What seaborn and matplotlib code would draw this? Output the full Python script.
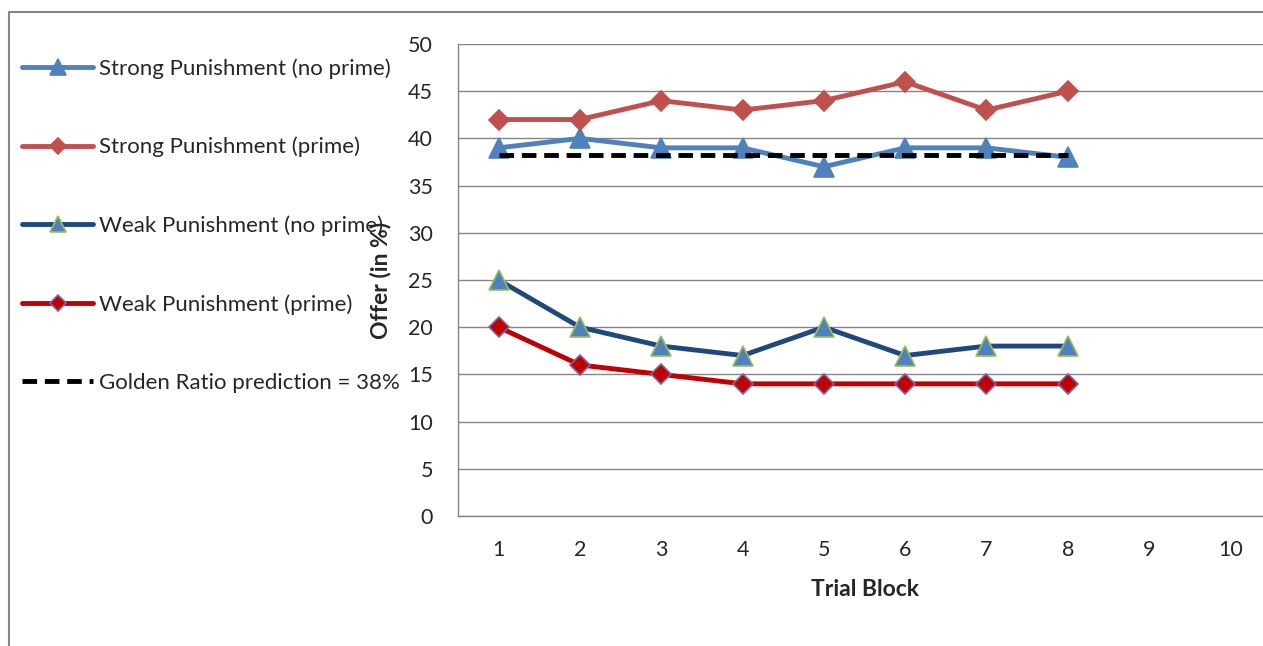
#!/usr/bin/env python3
"""
Offer by trial block for the punishment / prime conditions.
"""

import matplotlib
matplotlib.use('Agg')
import matplotlib.pyplot as plt
from matplotlib.lines import Line2D
import seaborn as sns
import numpy as np

# Data
trial_blocks = [1, 2, 3, 4, 5, 6, 7, 8]
category_labels = ['1', '2', '3', '4', '5', '6', '7', '8', '9', '10']
strong_no_prime = [39, 40, 39, 39, 37, 39, 39, 38]
strong_prime = [42, 42, 44, 43, 44, 46, 43, 45]
weak_no_prime = [25, 20, 18, 17, 20, 17, 18, 18]
weak_prime = [20, 16, 15, 14, 14, 14, 14, 14]
golden_ratio = [38.2] * 8
y_ticks = [0, 5, 10, 15, 20, 25, 30, 35, 40, 45, 50]

sns.set_style('white')
plt.rcParams['font.family'] = ['Lato', 'DejaVu Sans']

W, H = 1263, 646
fig = plt.figure(figsize=(W / 100, H / 100), dpi=100)
ax = fig.add_axes([458 / W, 130 / H, (1271 - 458) / W, (516 - 44) / H])

grey = '#868686'

series = [
    ('Strong Punishment (no prime)', strong_no_prime, '#4F81BD', '^', '#4F81BD', '#4F81BD', 14),
    ('Strong Punishment (prime)', strong_prime, '#C0504D', 'D', '#C0504D', '#C0504D', 10),
    ('Weak Punishment (no prime)', weak_no_prime, '#1F497D', '^', '#4F81BD', '#9BBB59', 14),
    ('Weak Punishment (prime)', weak_prime, '#C00000', 'D', '#C00000', '#8064A2', 10),
]

for label, values, color, marker, mfc, mec, ms in series:
    sns.lineplot(x=trial_blocks, y=values, ax=ax, color=color, linewidth=3.5,
                 marker=marker, markersize=ms, markerfacecolor=mfc,
                 markeredgecolor=mec, markeredgewidth=1.2, label=label,
                 zorder=3)

sns.lineplot(x=trial_blocks, y=golden_ratio, ax=ax, color='black',
             linewidth=3.5, linestyle=(0, (3, 1.6)),
             label='Golden Ratio prediction = 38%', zorder=4)

# Axes
ax.set_xlim(0.5, 10.5)
ax.set_ylim(0, 50)
ax.set_yticks(y_ticks)
ax.set_xticks(np.arange(1, 11))
ax.set_xticklabels(category_labels)
ax.set_xticks(np.arange(0.5, 11, 1), minor=True)
ax.tick_params(axis='x', which='major', length=0, pad=17, labelsize=15.5)
ax.tick_params(axis='x', which='minor', length=6, width=1, color=grey,
               direction='out')
ax.tick_params(axis='y', length=7, width=1, color=grey, direction='out',
               pad=11, labelsize=15.5)
ax.yaxis.grid(True, color=grey, linewidth=1)
ax.set_axisbelow(True)
for side in ['top', 'right']:
    ax.spines[side].set_visible(False)
for side in ['left', 'bottom']:
    ax.spines[side].set_color(grey)
    ax.spines[side].set_linewidth(1)

ax.set_xlabel('Trial Block', fontweight='bold', fontsize=16.5, labelpad=14)
ax.set_ylabel('Offer (in %)', fontweight='bold', fontsize=16.5, labelpad=12)

# Legend on the left
leg = ax.legend(loc='upper left', bbox_to_anchor=(22 / W, 1 - 58 / H),
                bbox_transform=fig.transFigure, frameon=False, fontsize=16,
                handlelength=3.2, handletextpad=0.27, labelspacing=2.62,
                borderaxespad=0, borderpad=0, markerscale=0.8)
leg.set_zorder(5)

# Chart border (partially visible)
fig.add_artist(Line2D([8.5 / W, 8.5 / W], [0, 1 - 12 / H],
                      transform=fig.transFigure, color=grey, linewidth=1.5))
fig.add_artist(Line2D([8.5 / W, 1], [1 - 12 / H, 1 - 12 / H],
                      transform=fig.transFigure, color=grey, linewidth=1.5))

fig.savefig('out.png', dpi=100)
